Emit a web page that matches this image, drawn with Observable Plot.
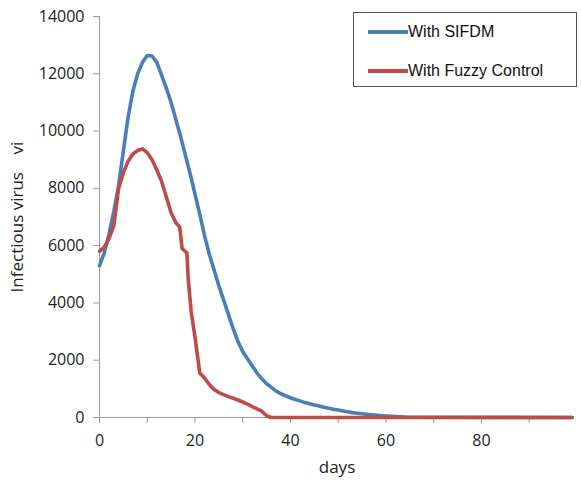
<!DOCTYPE html>
<html>
<head>
<meta charset="utf-8">
<script src="https://cdn.jsdelivr.net/npm/d3@7"></script>
<script src="https://cdn.jsdelivr.net/npm/@observablehq/plot@0.6"></script>
<style>
  html, body { margin: 0; padding: 0; background: white; }
  #wrap { position: relative; width: 581px; height: 481px; }
  #legend {
    position: absolute; left: 353px; top: 12px; width: 224px; height: 75px;
    border: 1px solid #555; background: white; box-sizing: border-box;
    font-family: "Liberation Sans", Arial, sans-serif; font-size: 16px; color: #111;
  }
  .row { position: absolute; left: 14px; display: flex; align-items: center; height: 20px; }
  .swatch { width: 40px; height: 4px; margin-right: 0px; }
  svg g[aria-label="y-axis label"] text, svg g[aria-label="x-axis label"] text { font-size: 17px; }
</style>
</head>
<body>
<div id="wrap"></div>
<script>
// ---- data ----
const seriesNames = ["With SIFDM", "With Fuzzy Control"];
const seriesColors = ["#4a7ebb", "#be4b48"];

const sifdmDays = d3.range(0, 66).concat([99]);
const sifdmValues = [5300,5750,6400,7200,8100,9300,10500,11400,12000,12400,12640,12620,12400,11950,11500,11000,10400,9800,9150,8500,7800,7100,6350,5700,5150,4600,4100,3600,3100,2650,2300,2050,1800,1550,1350,1180,1050,920,830,760,690,630,580,520,480,440,400,360,320,290,260,230,200,170,150,130,110,95,80,65,55,45,35,25,15,10,0];

const fuzzyDays = [0,1,2,3,4,5,6,7,8,9,10,11,12,13,14,15,16,16.8,17.3,18.3,18.6,19.2,20,21,22,23,24,25,26,27,28,29,30,31,32,33,34,35,36,99];
const fuzzyValues = [5800,5950,6250,6700,8000,8550,8950,9200,9320,9380,9250,9000,8650,8250,7700,7150,6800,6650,5900,5750,4800,3700,2800,1550,1380,1150,980,870,800,730,670,610,540,470,380,300,220,60,0,0];

const yTicks = [0,2000,4000,6000,8000,10000,12000,14000];
const xTicks = [0,10,20,30,40,50,60,70,80,90];
const xTickLabels = [0,20,40,60,80];

const sifdm = sifdmDays.map((d, i) => ({day: d, v: sifdmValues[i]}));
const fuzzy = fuzzyDays.map((d, i) => ({day: d, v: fuzzyValues[i]}));

const plot = Plot.plot({
  width: 581,
  height: 481,
  marginLeft: 99,
  marginRight: 7,
  marginTop: 16,
  marginBottom: 64,
  style: {fontFamily: "'Open Sans', sans-serif", fontSize: "16px", color: "#222", background: "white", overflow: "visible"},
  x: {domain: [0, 99.5]},
  y: {domain: [0, 14000]},
  marks: [
    Plot.axisY({ticks: yTicks, tickSize: 6, tickPadding: 9, tickFormat: d => String(d), stroke: "#999", fill: "#222",
      label: "Infectious virus\u00a0\u00a0\u00a0\u00a0vi", labelArrow: "none", labelAnchor: "center", labelOffset: 89}),
    Plot.axisX({ticks: xTicks, tickSize: 6, tickPadding: 11, stroke: "#999", fill: "#222",
      tickFormat: d => xTickLabels.includes(d) ? String(d) : "",
      label: "days", labelArrow: "none", labelAnchor: "center", labelOffset: 55}),
    Plot.ruleX([0], {stroke: "#999"}),
    Plot.ruleY([0], {stroke: "#999"}),
    Plot.line(sifdm, {x: "day", y: "v", stroke: seriesColors[0], strokeWidth: 3.6}),
    Plot.line(fuzzy, {x: "day", y: "v", stroke: seriesColors[1], strokeWidth: 3.6})
  ]
});

const wrap = document.getElementById("wrap");
wrap.appendChild(plot);

const legend = document.createElement("div");
legend.id = "legend";
seriesNames.forEach((name, i) => {
  const row = document.createElement("div");
  row.className = "row";
  row.style.top = (i === 0 ? 9 : 48) + "px";
  const sw = document.createElement("div");
  sw.className = "swatch";
  sw.style.background = seriesColors[i];
  const label = document.createElement("span");
  label.textContent = name;
  row.appendChild(sw);
  row.appendChild(label);
  legend.appendChild(row);
});
wrap.appendChild(legend);
</script>
</body>
</html>
